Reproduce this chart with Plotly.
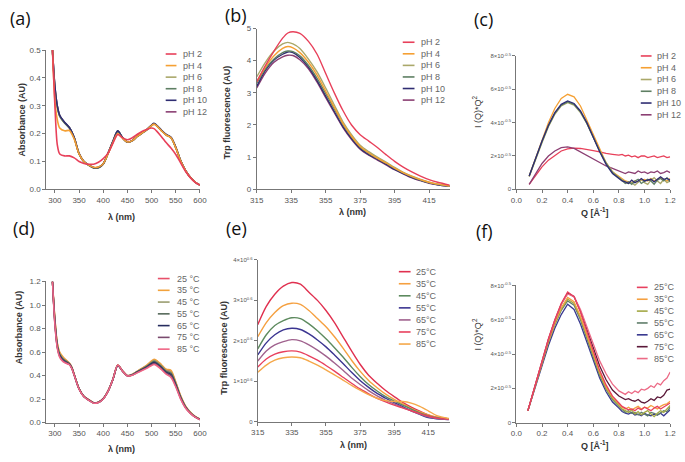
import plotly.graph_objects as go

W, H = 685, 462

# ---------------- DATA ----------------
ph_names = ["pH 2", "pH 4", "pH 6", "pH 8", "pH 10", "pH 12"]
temp_names_d = ["25 °C", "35 °C", "45 °C", "55 °C", "65 °C", "75 °C", "85 °C"]
temp_names_ef = ["25°C", "35°C", "45°C", "55°C", "65°C", "75°C", "85°C"]

# (a) absorbance vs wavelength at different pH
wl_a = [295, 300, 305, 310, 320, 330, 340, 350, 360, 370, 380, 390, 400, 410, 420, 430, 440, 450,
        460, 470, 480, 490, 500, 505, 510, 520, 530, 540, 550, 560, 570, 580, 590, 600]
abs_ph2 = [0.5, 0.3, 0.16, 0.127, 0.12, 0.12, 0.113, 0.1, 0.093, 0.09, 0.09, 0.097, 0.11, 0.13, 0.165, 0.197,
           0.185, 0.178, 0.185, 0.197, 0.208, 0.215, 0.22, 0.218, 0.21, 0.19, 0.168, 0.148, 0.125, 0.095,
           0.065, 0.042, 0.025, 0.015]
abs_ph4 = [0.5, 0.32, 0.25, 0.22, 0.21, 0.211, 0.18, 0.127, 0.1, 0.087, 0.079, 0.08, 0.092, 0.128, 0.168, 0.2,
           0.183, 0.17, 0.175, 0.19, 0.202, 0.214, 0.229, 0.234, 0.229, 0.211, 0.195, 0.185, 0.149, 0.102,
           0.068, 0.043, 0.026, 0.015]
abs_ph6 = [0.5, 0.36, 0.295, 0.262, 0.238, 0.22, 0.184, 0.127, 0.099, 0.086, 0.078, 0.078, 0.091, 0.129, 0.171,
           0.208, 0.184, 0.169, 0.174, 0.189, 0.201, 0.213, 0.229, 0.234, 0.229, 0.211, 0.195, 0.185, 0.149,
           0.102, 0.068, 0.043, 0.026, 0.015]
abs_ph8 = [0.5, 0.365, 0.298, 0.264, 0.239, 0.221, 0.185, 0.128, 0.1, 0.087, 0.077, 0.077, 0.091, 0.13, 0.172,
           0.209, 0.185, 0.17, 0.175, 0.19, 0.202, 0.214, 0.23, 0.236, 0.23, 0.212, 0.196, 0.186, 0.15,
           0.103, 0.068, 0.043, 0.026, 0.015]
abs_ph10 = [0.5, 0.37, 0.3, 0.266, 0.241, 0.222, 0.186, 0.128, 0.1, 0.087, 0.078, 0.079, 0.092, 0.13, 0.172,
            0.21, 0.185, 0.17, 0.175, 0.19, 0.202, 0.214, 0.231, 0.237, 0.231, 0.213, 0.197, 0.187, 0.151,
            0.103, 0.068, 0.043, 0.026, 0.015]
abs_ph12 = [0.5, 0.368, 0.299, 0.265, 0.24, 0.221, 0.185, 0.128, 0.1, 0.087, 0.078, 0.078, 0.091, 0.13, 0.171,
            0.209, 0.185, 0.17, 0.175, 0.19, 0.202, 0.214, 0.23, 0.235, 0.23, 0.212, 0.196, 0.186, 0.15,
            0.103, 0.068, 0.043, 0.026, 0.015]

# (b) Trp fluorescence vs wavelength at different pH
wl_b = [315, 320, 325, 330, 333, 336, 340, 345, 350, 355, 360, 365, 370, 375, 380, 385, 390, 395,
        400, 405, 410, 415, 420, 427]
fl_ph2 = [3.35, 3.85, 4.3, 4.7, 4.86, 4.9, 4.85, 4.6, 4.2, 3.6, 3.0, 2.45, 2.0, 1.7, 1.5, 1.3, 1.08, 0.87,
          0.69, 0.54, 0.41, 0.3, 0.22, 0.13]
fl_ph4 = [3.35, 3.8, 4.15, 4.38, 4.44, 4.4, 4.25, 3.95, 3.55, 3.05, 2.55, 2.05, 1.65, 1.33, 1.13, 0.97,
          0.82, 0.66, 0.52, 0.4, 0.3, 0.22, 0.16, 0.1]
fl_ph6 = [3.5, 3.95, 4.3, 4.52, 4.57, 4.52, 4.38, 4.05, 3.65, 3.15, 2.62, 2.1, 1.7, 1.37, 1.17, 1.0,
          0.85, 0.68, 0.53, 0.41, 0.31, 0.22, 0.16, 0.1]
fl_ph8 = [3.3, 3.75, 4.05, 4.25, 4.3, 4.28, 4.15, 3.85, 3.45, 2.98, 2.5, 2.02, 1.63, 1.31, 1.12, 0.96,
          0.81, 0.65, 0.51, 0.39, 0.29, 0.21, 0.15, 0.1]
fl_ph10 = [3.2, 3.7, 4.02, 4.2, 4.27, 4.25, 4.1, 3.8, 3.38, 2.9, 2.42, 1.95, 1.58, 1.27, 1.08, 0.93,
           0.78, 0.62, 0.49, 0.37, 0.28, 0.2, 0.14, 0.09]
fl_ph12 = [3.15, 3.62, 3.95, 4.12, 4.17, 4.16, 4.03, 3.75, 3.33, 2.85, 2.38, 1.92, 1.55, 1.25, 1.06, 0.91,
           0.76, 0.61, 0.48, 0.36, 0.27, 0.19, 0.14, 0.09]

# (c) Kratky plot at different pH (units of the tick labels)
q_c = [0.10, 0.15, 0.20, 0.25, 0.30, 0.35, 0.40, 0.45, 0.50, 0.55, 0.60, 0.65, 0.70, 0.75, 0.80,
       0.825, 0.85, 0.875, 0.90, 0.925, 0.95, 0.975, 1.00, 1.025, 1.05, 1.075, 1.10, 1.125, 1.15, 1.175, 1.20]
kr_ph2 = [0.3, 0.85, 1.35, 1.75, 2.05, 2.3, 2.42, 2.47, 2.45, 2.4, 2.32, 2.25, 2.15, 2.1, 2.05, 2.1, 2.0,
          2.05, 1.95, 2.0, 1.9, 2.0, 2.0, 1.9, 1.95, 2.0, 1.9, 1.95, 2.0, 1.9, 1.95]
kr_ph4 = [0.8, 1.9, 2.95, 4.0, 4.85, 5.45, 5.7, 5.55, 5.0, 4.15, 3.2, 2.35, 1.6, 1.05, 0.75, 0.6, 0.5,
          0.45, 0.4, 0.5, 0.45, 0.55, 0.6, 0.5, 0.65, 0.5, 0.6, 0.7, 0.55, 0.5, 0.65]
kr_ph6 = [0.75, 1.8, 2.8, 3.75, 4.5, 5.0, 5.2, 5.05, 4.6, 3.95, 3.1, 2.3, 1.6, 1.05, 0.7, 0.55, 0.45,
          0.35, 0.4, 0.25, 0.45, 0.6, 0.4, 0.3, 0.55, 0.7, 0.5, 0.35, 0.6, 0.4, 0.5]
kr_ph8 = [0.8, 1.85, 2.85, 3.8, 4.55, 5.05, 5.25, 5.1, 4.65, 3.95, 3.1, 2.3, 1.55, 1.0, 0.7, 0.5, 0.35,
          0.45, 0.3, 0.5, 0.6, 0.35, 0.45, 0.6, 0.5, 0.3, 0.55, 0.65, 0.5, 0.7, 0.45]
kr_ph10 = [0.8, 1.9, 2.9, 3.85, 4.6, 5.1, 5.3, 5.15, 4.7, 4.0, 3.1, 2.25, 1.5, 0.95, 0.65, 0.5, 0.45,
           0.35, 0.55, 0.4, 0.5, 0.65, 0.5, 0.55, 0.6, 0.45, 0.6, 0.75, 0.6, 0.65, 0.55]
kr_ph12 = [0.3, 0.95, 1.55, 2.0, 2.3, 2.5, 2.55, 2.45, 2.25, 2.05, 1.85, 1.6, 1.4, 1.25, 1.1, 1.05, 0.95,
           1.05, 1.0, 0.95, 1.1, 1.0, 1.05, 0.95, 1.05, 1.0, 1.1, 0.95, 1.0, 1.1, 1.0]

# (d) absorbance vs wavelength at different temperatures
wl_d = [295, 300, 305, 310, 315, 320, 330, 335, 340, 350, 360, 370, 380, 390, 400, 410, 420, 430, 440,
        450, 460, 470, 480, 490, 500, 505, 510, 520, 530, 540, 550, 560, 570, 580, 590, 600]
abs_t25 = [1.2, 0.88, 0.67, 0.59, 0.56, 0.54, 0.505, 0.47, 0.41, 0.29, 0.225, 0.195, 0.17, 0.175, 0.205, 0.27,
           0.37, 0.49, 0.44, 0.4, 0.41, 0.435, 0.46, 0.485, 0.52, 0.535, 0.525, 0.49, 0.45, 0.435, 0.34,
           0.225, 0.14, 0.088, 0.052, 0.03]
abs_t35 = [1.2, 0.89, 0.68, 0.6, 0.57, 0.545, 0.508, 0.472, 0.41, 0.29, 0.225, 0.195, 0.17, 0.175, 0.205,
           0.27, 0.37, 0.49, 0.44, 0.4, 0.41, 0.437, 0.463, 0.49, 0.525, 0.54, 0.53, 0.495, 0.455, 0.445,
           0.345, 0.23, 0.143, 0.09, 0.053, 0.03]
abs_t45 = [1.2, 0.87, 0.665, 0.585, 0.555, 0.535, 0.502, 0.468, 0.408, 0.29, 0.224, 0.194, 0.17, 0.175,
           0.205, 0.27, 0.37, 0.488, 0.44, 0.4, 0.41, 0.434, 0.458, 0.482, 0.515, 0.528, 0.518, 0.483,
           0.443, 0.428, 0.335, 0.222, 0.138, 0.087, 0.051, 0.029]
abs_t55 = [1.2, 0.86, 0.655, 0.578, 0.548, 0.53, 0.5, 0.466, 0.406, 0.288, 0.223, 0.193, 0.169, 0.174,
           0.204, 0.269, 0.369, 0.487, 0.439, 0.399, 0.408, 0.432, 0.455, 0.478, 0.508, 0.52, 0.51, 0.476,
           0.436, 0.42, 0.328, 0.217, 0.135, 0.085, 0.05, 0.028]
abs_t65 = [1.2, 0.85, 0.645, 0.57, 0.54, 0.522, 0.497, 0.464, 0.405, 0.287, 0.222, 0.192, 0.168, 0.173,
           0.203, 0.268, 0.368, 0.486, 0.438, 0.398, 0.406, 0.429, 0.451, 0.473, 0.501, 0.512, 0.502,
           0.468, 0.428, 0.408, 0.32, 0.212, 0.132, 0.083, 0.049, 0.027]
abs_t75 = [1.2, 0.84, 0.64, 0.562, 0.533, 0.516, 0.494, 0.462, 0.404, 0.286, 0.221, 0.191, 0.167, 0.172,
           0.202, 0.267, 0.367, 0.485, 0.437, 0.397, 0.404, 0.426, 0.447, 0.468, 0.494, 0.503, 0.494,
           0.46, 0.42, 0.398, 0.312, 0.207, 0.129, 0.081, 0.048, 0.026]
abs_t85 = [1.2, 0.83, 0.632, 0.555, 0.527, 0.51, 0.492, 0.46, 0.403, 0.285, 0.22, 0.19, 0.166, 0.172,
           0.202, 0.268, 0.37, 0.49, 0.438, 0.397, 0.403, 0.423, 0.443, 0.462, 0.486, 0.494, 0.486,
           0.452, 0.412, 0.385, 0.303, 0.2, 0.125, 0.079, 0.047, 0.025]

# (e) Trp fluorescence vs wavelength at different temperatures (×10^0.6 units)
wl_e = [315, 320, 325, 330, 335, 340, 345, 350, 355, 360, 365, 370, 375, 380, 385, 390, 395, 400,
        405, 410, 415, 420, 427]
fl_t25 = [2.4, 2.85, 3.15, 3.35, 3.44, 3.4, 3.2, 3.0, 2.75, 2.45, 2.1, 1.75, 1.42, 1.15, 0.95, 0.77,
          0.62, 0.48, 0.36, 0.26, 0.17, 0.11, 0.07]
fl_t35 = [2.1, 2.45, 2.7, 2.87, 2.93, 2.9, 2.75, 2.55, 2.35, 2.1, 1.82, 1.52, 1.25, 1.02, 0.84, 0.68,
          0.55, 0.44, 0.33, 0.24, 0.17, 0.11, 0.07]
fl_t45 = [1.8, 2.15, 2.38, 2.5, 2.57, 2.55, 2.42, 2.25, 2.05, 1.83, 1.6, 1.35, 1.12, 0.92, 0.76, 0.62,
          0.51, 0.41, 0.31, 0.22, 0.15, 0.1, 0.06]
fl_t55 = [1.65, 1.95, 2.15, 2.27, 2.31, 2.28, 2.17, 2.02, 1.85, 1.65, 1.44, 1.22, 1.02, 0.85, 0.7, 0.58,
          0.47, 0.37, 0.27, 0.18, 0.1, 0.07, 0.05]
fl_t65 = [1.5, 1.75, 1.9, 1.98, 2.03, 2.0, 1.9, 1.77, 1.62, 1.45, 1.27, 1.08, 0.92, 0.77, 0.64, 0.53,
          0.44, 0.35, 0.27, 0.19, 0.12, 0.08, 0.05]
fl_t75 = [1.35, 1.55, 1.67, 1.73, 1.75, 1.72, 1.63, 1.52, 1.39, 1.25, 1.1, 0.95, 0.81, 0.69, 0.58, 0.49,
          0.41, 0.34, 0.27, 0.2, 0.14, 0.09, 0.06]
fl_t85 = [1.22, 1.4, 1.52, 1.58, 1.6, 1.58, 1.5, 1.4, 1.28, 1.16, 1.03, 0.9, 0.78, 0.67, 0.58, 0.52,
          0.5, 0.5, 0.46, 0.38, 0.27, 0.15, 0.08]

# (f) Kratky plot at different temperatures
q_f = [0.09, 0.15, 0.20, 0.25, 0.30, 0.35, 0.40, 0.45, 0.50, 0.55, 0.60, 0.65, 0.70, 0.75, 0.80,
       0.825, 0.85, 0.875, 0.90, 0.925, 0.95, 0.975, 1.00, 1.025, 1.05, 1.075, 1.10, 1.125, 1.15, 1.175, 1.20]
kr_t25 = [0.7, 2.3, 3.65, 4.9, 6.0, 6.95, 7.62, 7.35, 6.45, 5.3, 4.1, 3.05, 2.2, 1.55, 1.15, 0.95, 0.85,
          0.75, 0.8, 0.7, 0.85, 0.75, 0.9, 0.8, 0.7, 0.85, 0.95, 0.8, 0.9, 1.0, 1.15]
kr_t35 = [0.7, 2.25, 3.55, 4.75, 5.8, 6.7, 7.3, 7.05, 6.2, 5.1, 3.95, 2.95, 2.1, 1.5, 1.1, 0.9, 0.8, 0.9,
          0.75, 0.85, 0.95, 0.8, 0.9, 0.85, 1.0, 0.9, 0.8, 0.95, 1.05, 1.1, 1.25]
kr_t45 = [0.7, 2.25, 3.5, 4.7, 5.75, 6.6, 7.2, 6.95, 6.1, 5.0, 3.85, 2.85, 2.0, 1.4, 1.0, 0.8, 0.7, 0.6,
          0.75, 0.5, 0.65, 0.45, 0.6, 0.7, 0.5, 0.35, 0.55, 0.7, 0.6, 0.8, 1.0]
kr_t55 = [0.7, 2.2, 3.5, 4.65, 5.7, 6.55, 7.1, 6.85, 6.0, 4.9, 3.75, 2.75, 1.95, 1.35, 0.95, 0.75, 0.6,
          0.7, 0.55, 0.6, 0.45, 0.6, 0.5, 0.4, 0.6, 0.55, 0.45, 0.6, 0.7, 0.65, 0.9]
kr_t65 = [0.7, 2.15, 3.4, 4.5, 5.5, 6.3, 6.9, 6.6, 5.75, 4.7, 3.6, 2.6, 1.8, 1.2, 0.85, 0.65, 0.55, 0.5,
          0.6, 0.45, 0.5, 0.4, 0.55, 0.45, 0.4, 0.5, 0.45, 0.55, 0.4, 0.6, 0.75]
kr_t75 = [0.7, 2.3, 3.6, 4.85, 5.95, 6.9, 7.55, 7.35, 6.5, 5.4, 4.3, 3.3, 2.5, 1.9, 1.55, 1.45, 1.35, 1.4,
          1.3, 1.25, 1.35, 1.2, 1.15, 1.25, 1.4, 1.3, 1.5, 1.45, 1.6, 1.9, 1.95]
kr_t85 = [0.7, 2.3, 3.6, 4.85, 5.95, 6.9, 7.5, 7.35, 6.6, 5.6, 4.55, 3.6, 2.85, 2.25, 1.85, 1.75, 1.65,
          1.8, 1.7, 1.85, 1.75, 1.95, 1.9, 2.0, 2.15, 2.05, 2.3, 2.2, 2.45, 2.6, 2.95]

# tick labels
ticks_wl_abs = [300, 350, 400, 450, 500, 550, 600]
ticks_wl_fl = [315, 335, 355, 375, 395, 415]
ticks_q = [0.0, 0.2, 0.4, 0.6, 0.8, 1.0, 1.2]
ticks_q_text = ["0.0", "0.2", "0.4", "0.6", "0.8", "1.0", "1.2"]
ticks_kr = [0, 2, 4, 6, 8]
ticks_kr_text = ["0", "2×10<sup>-0.5</sup>", "4×10<sup>-0.5</sup>", "6×10<sup>-0.5</sup>", "8×10<sup>-0.5</sup>"]
ticks_fl_e = [0, 1, 2, 3, 4]
ticks_fl_e_text = ["0", "1×10<sup>0.6</sup>", "2×10<sup>0.6</sup>", "3×10<sup>0.6</sup>", "4×10<sup>0.6</sup>"]

# colours
col_ph = ["#e8405a", "#f5a033", "#aaa86a", "#5e7f63", "#2f2d72", "#8b3f73"]
col_d = ["#e8506a", "#f2a23c", "#9a9d70", "#56695a", "#262c5e", "#7a4a6e", "#f06585"]
col_e = ["#e0304f", "#f5a040", "#5d8a5e", "#3b3591", "#a0628e", "#e8405e", "#f5a84a"]
col_f = ["#e8405e", "#f5a040", "#a3a845", "#5f7d6a", "#3a3a90", "#5a1838", "#ec6a86"]

# ---------------- LAYOUT HELPERS ----------------
def px(x):
    return x / W

def py(y):
    return 1 - y / H

fig = go.Figure()

panels = {
    # name: (xdomain px, ydomain px (top,bottom), xrange, yrange)
    1: ((40, 197), (47, 189), [282, 600], [0, 0.5]),
    2: ((255, 452), (25, 189), [315, 427], [0, 5]),
    3: ((520, 677), (53, 189), [0, 1.2], [0, 8]),
    4: ((40, 197), (283, 427), [282, 600], [0, 1.2]),
    5: ((256, 452), (261, 426), [315, 427.6], [0, 4]),
    6: ((520, 677), (287, 427), [0, 1.2], [0, 8]),
}

tickfont = dict(family="Liberation Sans, Arial", size=8, color="#555")
axcommon = dict(showline=True, linecolor="#777", linewidth=1, ticks="outside", ticklen=3,
                tickcolor="#777", showgrid=False, zeroline=False, tickfont=tickfont, fixedrange=True)

layout_axes = {}
for i, (xd, yd, xr, yr) in panels.items():
    sx = "" if i == 1 else str(i)
    layout_axes["xaxis" + sx] = dict(domain=[px(xd[0]), px(xd[1])], range=xr, anchor="y" + sx, **axcommon)
    layout_axes["yaxis" + sx] = dict(domain=[py(yd[1]), py(yd[0])], range=yr, anchor="x" + sx, **axcommon)

# tick settings
layout_axes["xaxis"].update(tickvals=ticks_wl_abs)
layout_axes["yaxis"].update(tickvals=[0, 0.1, 0.2, 0.3, 0.4, 0.5], tickformat=".1f")
layout_axes["xaxis2"].update(tickvals=ticks_wl_fl)
layout_axes["yaxis2"].update(tickvals=[0, 1, 2, 3, 4, 5])
layout_axes["xaxis3"].update(tickvals=ticks_q, ticktext=ticks_q_text)
layout_axes["yaxis3"].update(tickvals=ticks_kr, ticktext=ticks_kr_text, tickfont=dict(tickfont, size=6))
layout_axes["xaxis4"].update(tickvals=ticks_wl_abs)
layout_axes["yaxis4"].update(tickvals=[0, 0.2, 0.4, 0.6, 0.8, 1.0, 1.2], tickformat=".1f")
layout_axes["xaxis5"].update(tickvals=ticks_wl_fl)
layout_axes["yaxis5"].update(tickvals=ticks_fl_e, ticktext=ticks_fl_e_text, tickfont=dict(tickfont, size=6))
layout_axes["xaxis6"].update(tickvals=ticks_q, ticktext=ticks_q_text)
layout_axes["yaxis6"].update(tickvals=ticks_kr, ticktext=ticks_kr_text, tickfont=dict(tickfont, size=6))

def add(xs, ys, color, name, ax, width=1.4, smooth=True):
    sx = "" if ax == 1 else str(ax)
    fig.add_trace(go.Scatter(
        x=xs, y=ys, mode="lines", name=name, showlegend=False,
        line=dict(color=color, width=width, shape="spline" if smooth else "linear",
                  smoothing=0.8 if smooth else None),
        xaxis="x" + sx, yaxis="y" + sx, hoverinfo="skip"))

series_a = [abs_ph2, abs_ph4, abs_ph6, abs_ph8, abs_ph10, abs_ph12]
for idx in [5, 2, 3, 4, 1, 0]:
    add(wl_a, series_a[idx], col_ph[idx], ph_names[idx], 1, width=1.6)

series_b = [fl_ph2, fl_ph4, fl_ph6, fl_ph8, fl_ph10, fl_ph12]
for idx in [5, 4, 3, 2, 1, 0]:
    add(wl_b, series_b[idx], col_ph[idx], ph_names[idx], 2)

series_c = [kr_ph2, kr_ph4, kr_ph6, kr_ph8, kr_ph10, kr_ph12]
for idx in [0, 5, 1, 2, 3, 4]:
    add(q_c, series_c[idx], col_ph[idx], ph_names[idx], 3, width=1.3, smooth=False)

series_d = [abs_t25, abs_t35, abs_t45, abs_t55, abs_t65, abs_t75, abs_t85]
for idx in range(7):
    add(wl_d, series_d[idx], col_d[idx], temp_names_d[idx], 4, width=1.5)

series_e = [fl_t25, fl_t35, fl_t45, fl_t55, fl_t65, fl_t75, fl_t85]
for idx in range(7):
    add(wl_e, series_e[idx], col_e[idx], temp_names_ef[idx], 5)

series_f = [kr_t25, kr_t35, kr_t45, kr_t55, kr_t65, kr_t75, kr_t85]
for idx in [4, 3, 2, 1, 5, 6, 0]:
    add(q_f, series_f[idx], col_f[idx], temp_names_ef[idx], 6, width=1.3, smooth=False)

# ---------------- ANNOTATIONS / MANUAL LEGENDS ----------------
annotations = []
shapes = []

def text(x, y, s, size=9, color="#333", bold=False, angle=0, xanchor="center", family="Liberation Sans, Arial"):
    annotations.append(dict(x=px(x), y=py(y), xref="paper", yref="paper", text=("<b>%s</b>" % s) if bold else s,
                            showarrow=False, textangle=angle, xanchor=xanchor, yanchor="middle",
                            font=dict(size=size, color=color, family=family)))

# panel labels
for lab, (x, y) in {"(a)": (14, 14), "(b)": (234, 11), "(c)": (486, 15),
                    "(d)": (17, 228), "(e)": (234, 228), "(f)": (487, 231)}.items():
    text(x, y, lab, size=18, color="#111", family="Open Sans, DejaVu Sans")

# axis titles
text(15, 118, "Absorbance (AU)", size=9, bold=True, angle=-90)
text(117, 217, "λ (nm)", size=9, bold=True)
text(224, 110, "Trp fluorescence (AU)", size=9, bold=True, angle=-90)
text(353, 212, "λ (nm)", size=9, bold=True)
text(480, 110, "I (Q)*Q<sup>2</sup>", size=9, angle=-90)
text(600, 212, "Q [Å<sup>-1</sup>]", size=9, bold=True)
text(12, 330, "Absorbance (AU)", size=9, bold=True, angle=-90)
text(117, 454, "λ (nm)", size=9, bold=True)
text(222, 350, "Trp fluorescence (AU)", size=9, bold=True, angle=-90)
text(354, 450, "λ (nm)", size=9, bold=True)
text(480, 337, "I (Q)*Q<sup>2</sup>", size=9, angle=-90)
text(600, 450, "Q [Å<sup>-1</sup>]", size=9, bold=True)

def legend(names, colors, x0, x1, xt, y0, dy):
    for k, (n, c) in enumerate(zip(names, colors)):
        yy = y0 + k * dy
        shapes.append(dict(type="line", xref="paper", yref="paper", x0=px(x0), x1=px(x1),
                           y0=py(yy), y1=py(yy), line=dict(color=c, width=1.6)))
        text(xt, yy, n, size=9, color="#666", xanchor="left")

legend(ph_names, col_ph, 162, 173, 178, 51, 11.8)
legend(ph_names, col_ph, 404, 416, 421, 39, 11.8)
legend(ph_names, col_ph, 647, 658, 662, 53, 12)
legend(temp_names_d, col_d, 154, 166, 171, 280, 12)
legend(temp_names_ef, col_e, 400, 412, 416, 273, 12.3)
legend(temp_names_ef, col_f, 643, 654, 658, 289, 12.1)

fig.update_layout(
    width=W, height=H, autosize=False,
    margin=dict(l=0, r=0, t=0, b=0),
    paper_bgcolor="white", plot_bgcolor="white",
    showlegend=False,
    annotations=annotations, shapes=shapes,
    **layout_axes
)

fig.write_html("out.html", config={"displayModeBar": False},
               post_script="document.body.style.margin='0';document.body.style.overflow='hidden';")
